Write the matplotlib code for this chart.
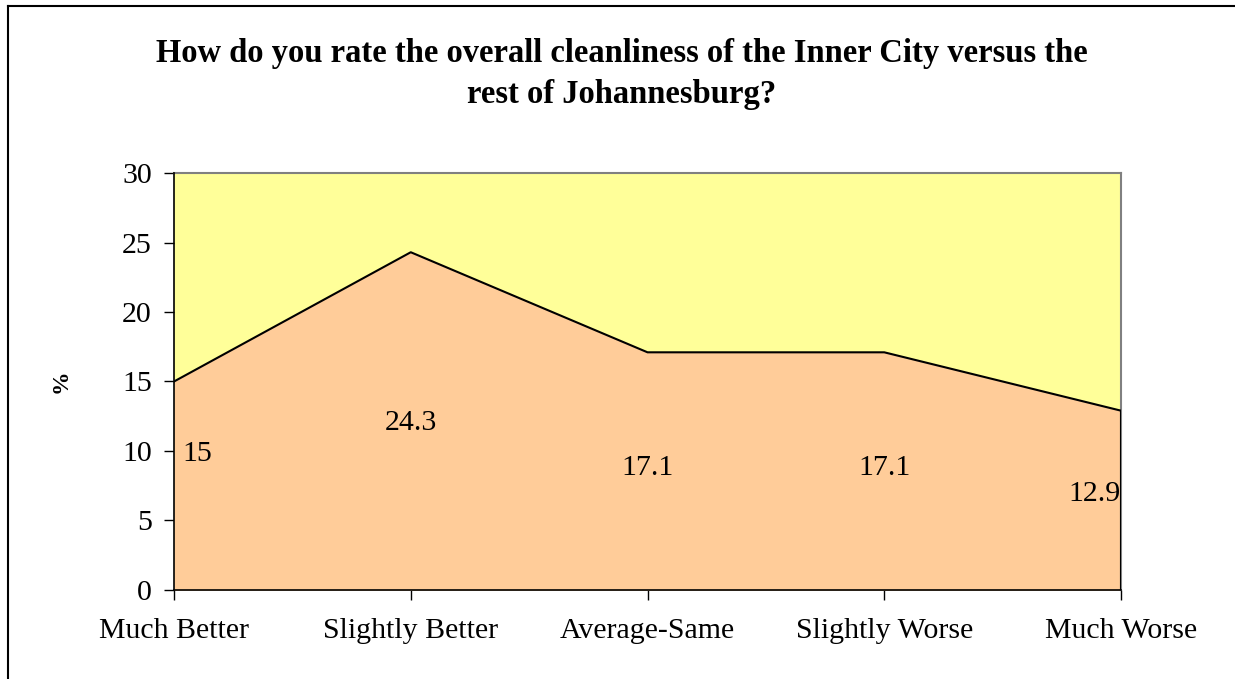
import matplotlib.pyplot as plt
from matplotlib.lines import Line2D

# Data
categories = ['Much Better', 'Slightly Better', 'Average-Same', 'Slightly Worse', 'Much Worse']
values = [15, 24.3, 17.1, 17.1, 12.9]
labels = ['15', '24.3', '17.1', '17.1', '12.9']
label_y = [9.8, 12.0, 8.8, 8.8, 6.9]
yticks = [0, 5, 10, 15, 20, 25, 30]

plt.rcParams['font.family'] = ['Liberation Serif', 'DejaVu Serif']

fig = plt.figure(figsize=(12.35, 6.79), dpi=100)
ax = fig.add_axes([0.1409, 0.1311, 0.7668, 0.6141])

x = list(range(len(categories)))
ax.set_facecolor('#FFFF99')
ax.fill_between(x, values, 0, color='#FFCC99', zorder=2)
ax.plot(x, values, color='black', lw=1.5, zorder=3)
ax.plot([x[-1], x[-1]], [0, values[-1]], color='black', lw=1.5, zorder=3)

ax.set_xlim(0, len(categories) - 1)
ax.set_ylim(0, 30)
ax.set_yticks(yticks)
ax.set_xticks(x)
ax.set_xticklabels(categories, fontsize=21.5)
ax.tick_params(axis='y', labelsize=21.5, length=7, width=1, pad=9)
ax.tick_params(axis='x', length=7, width=1, pad=13)

for s in ['top', 'right']:
    ax.spines[s].set_color('#808080')
    ax.spines[s].set_linewidth(1.5)
for s in ['left', 'bottom']:
    ax.spines[s].set_color('black')
    ax.spines[s].set_linewidth(1.2)
    ax.spines[s].set_zorder(4)

# data labels
for i, (lab, ly) in enumerate(zip(labels, label_y)):
    if i == 0:
        ax.text(i + 0.1, ly, lab, ha='center', va='center', fontsize=21.5, zorder=5)
    elif i == len(labels) - 1:
        ax.text(i, ly, lab, ha='right', va='center', fontsize=21.5, zorder=5)
    else:
        ax.text(i, ly, lab, ha='center', va='center', fontsize=21.5, zorder=5)

ax.set_ylabel('%', fontsize=17, fontweight='bold', labelpad=36)

fig.text(0.5036, 0.891,
         'How do you rate the overall cleanliness of the Inner City versus the\nrest of Johannesburg?',
         ha='center', va='center', fontsize=23.5, fontweight='bold', linespacing=1.45)

# chart border (top and left visible)
fig.add_artist(Line2D([8 / 1235, 8 / 1235], [0, 1 - 6 / 679], transform=fig.transFigure, color='black', lw=1.5))
fig.add_artist(Line2D([8 / 1235, 1], [1 - 6 / 679, 1 - 6 / 679], transform=fig.transFigure, color='black', lw=1.5))

fig.savefig('out.png', dpi=100)
